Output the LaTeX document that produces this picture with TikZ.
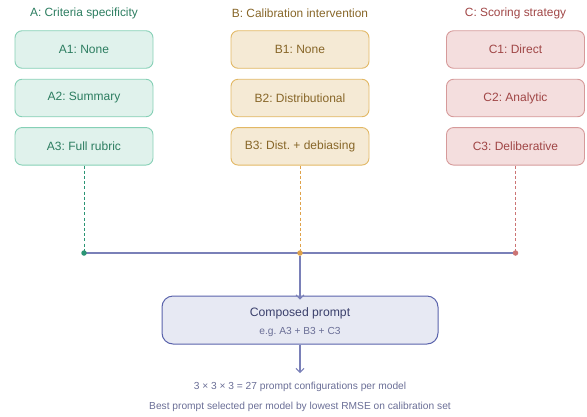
\documentclass[tikz,border=0pt]{standalone}
\usepackage{fontspec}
\setmainfont{Liberation Sans}
\usetikzlibrary{arrows.meta}
\frenchspacing
\definecolor{aFill}{HTML}{E0F2EC}
\definecolor{aLine}{HTML}{86D0B6}
\definecolor{aText}{HTML}{2C7D60}
\definecolor{aDash}{HTML}{2A9574}
\definecolor{bFill}{HTML}{F5EAD5}
\definecolor{bLine}{HTML}{E2B865}
\definecolor{bText}{HTML}{876628}
\definecolor{bDash}{HTML}{DFA24A}
\definecolor{cFill}{HTML}{F4DEDE}
\definecolor{cLine}{HTML}{D69A9A}
\definecolor{cText}{HTML}{A04646}
\definecolor{cDash}{HTML}{CC7474}
\definecolor{pFill}{HTML}{E7E9F3}
\definecolor{pLine}{HTML}{5A63AC}
\definecolor{pText}{HTML}{3B406C}
\definecolor{pSub}{HTML}{6A6E96}
\definecolor{hLine}{HTML}{7A80B8}
\begin{document}
\begin{tikzpicture}[x=1pt,y=-1pt,
  optbox/.style={rounded corners=7pt, line width=0.9pt, minimum width=138pt, minimum height=37.5pt, inner sep=0pt, font=\fontsize{12}{14}\selectfont\frenchspacing},
  abox/.style={optbox, draw=aLine, fill=aFill, text=aText},
  bbox/.style={optbox, draw=bLine, fill=bFill, text=bText},
  cbox/.style={optbox, draw=cLine, fill=cFill, text=cText},
  grouptitle/.style={inner sep=0pt, font=\fontsize{11.9}{14}\selectfont\frenchspacing},
  dashconn/.style={dashed, dash pattern=on 3pt off 2.2pt, line width=1pt},
  flow/.style={draw=hLine, line width=1.3pt},
  flowarrow/.style={flow, -{Straight Barb[length=4pt,width=8pt,line width=1pt]}},
  dot/.style={circle, inner sep=0pt, minimum size=5.5pt},
  note/.style={inner sep=0pt, text=pSub, font=\fontsize{10.2}{12}\selectfont}]
\useasboundingbox (0,0) rectangle (587,416);
% titles
\node[grouptitle, text=aText] (ta) at (84,13.5) {A: Criteria specificity};
\node[grouptitle, text=bText] (tb) at (300,13.5) {B: Calibration intervention};
\node[grouptitle, text=cText] (tc) at (515.5,13.5) {C: Scoring strategy};
% boxes
\node[abox] (a1) at (84,49.5) {A1: None};
\node[abox] (a2) at (84,98) {A2: Summary};
\node[abox] (a3) at (84,146.3) {A3: Full rubric};
\node[bbox] (b1) at (300,49.5) {B1: None};
\node[bbox] (b2) at (300,98) {B2: Distributional};
\node[bbox] (b3) at (300,146.3) {B3: Dist. + debiasing};
\node[cbox] (c1) at (515.5,49.5) {C1: Direct};
\node[cbox] (c2) at (515.5,98) {C2: Analytic};
\node[cbox] (c3) at (515.5,146.3) {C3: Deliberative};
% junction points
\coordinate (ja) at (84,253);
\coordinate (jb) at (300,253);
\coordinate (jc) at (515.5,253);
\draw[dashconn, draw=aDash] (a3.south) -- (ja);
\draw[dashconn, draw=bDash] (b3.south) -- (jb);
\draw[dashconn, draw=cDash] (c3.south) -- (jc);
\draw[flow] (ja) -- (jc);
\node[dot, fill=aDash] (da) at (ja) {};
\node[dot, fill=bDash] (db) at (jb) {};
\node[dot, fill=cDash] (dc) at (jc) {};
% composed prompt
\node[rounded corners=11pt, draw=pLine, fill=pFill, line width=1pt, minimum width=276pt, minimum height=48pt, inner sep=0pt] (cp) at (300,320) {};
\node[inner sep=0pt, text=pText, font=\fontsize{12.2}{14}\selectfont] (cpt) at (300,313) {Composed prompt};
\node[inner sep=0pt, text=pSub, font=\fontsize{10.2}{12}\selectfont] (cps) at (300,331.5) {e.g. A3 + B3 + C3};
\draw[flowarrow] (db) -- ([yshift=-4pt]cp.north);
\coordinate (endarrow) at (300,373);
\draw[flowarrow] (cp.south) -- (endarrow);
\node[note] (n1) at (300,387) {3 × 3 × 3 = 27 prompt configurations per model};
\node[note] (n2) at (300,406.5) {Best prompt selected per model by lowest RMSE on calibration set};
\end{tikzpicture}
\end{document}
